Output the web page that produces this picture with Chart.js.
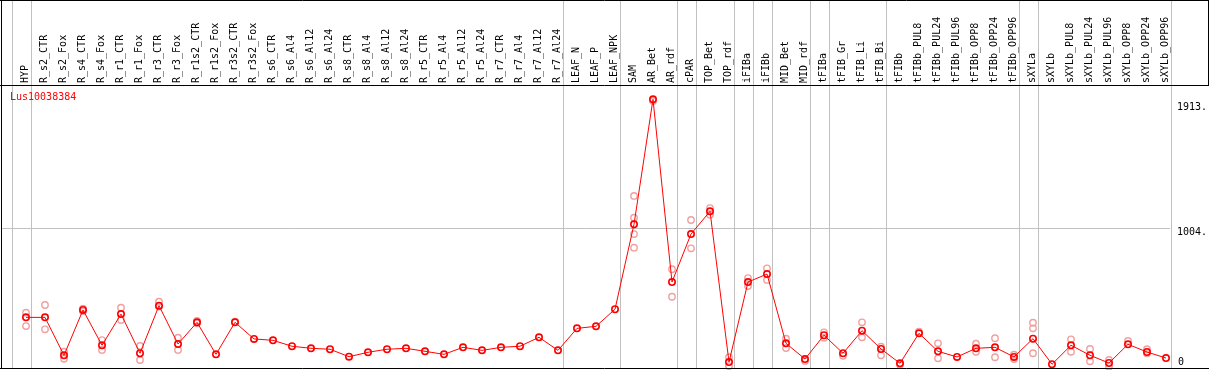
<!DOCTYPE html>
<html><head><meta charset="utf-8">
<script src="https://cdn.jsdelivr.net/npm/chart.js@4.4.0/dist/chart.umd.min.js"></script>
<style>html,body{margin:0;padding:0;background:#fff;overflow:hidden}#wrap{width:1209px;height:370px;position:relative;background:#fff}</style>
</head><body><div id="wrap"><canvas id="c" width="1209" height="370"></canvas></div>
<script>
const categories = ['HYP','R_s2_CTR','R_s2_Fox','R_s4_CTR','R_s4_Fox','R_r1_CTR','R_r1_Fox','R_r3_CTR','R_r3_Fox','R_r1s2_CTR','R_r1s2_Fox','R_r3s2_CTR','R_r3s2_Fox','R_s6_CTR','R_s6_Al4','R_s6_Al12','R_s6_Al24','R_s8_CTR','R_s8_Al4','R_s8_Al12','R_s8_Al24','R_r5_CTR','R_r5_Al4','R_r5_Al12','R_r5_Al24','R_r7_CTR','R_r7_Al4','R_r7_Al12','R_r7_Al24','LEAF_N','LEAF_P','LEAF_NPK','SAM','AR_Bet','AR_rdf','cPAR','TOP_Bet','TOP_rdf','iFIBa','iFIBb','MID_Bet','MID_rdf','tFIBa','tFIB_Gr','tFIB_Li','tFIB_Bi','tFIBb','tFIBb_PUL8','tFIBb_PUL24','tFIBb_PUL96','tFIBb_OPP8','tFIBb_OPP24','tFIBb_OPP96','sXYLa','sXYLb','sXYLb_PUL8','sXYLb_PUL24','sXYLb_PUL96','sXYLb_OPP8','sXYLb_OPP24','sXYLb_OPP96'];
const geneName = 'Lus10038384';
const meanValues = [361,361,85,415,158,385,100,446,167,325,92,325,204,194,151,136,129,75,107,129,136,114,92,143,121,143,151,216,121,281,296,420,1038,1947,618,967,1132,36,618,676,172,58,231,100,264,131,27,245,114,73,136,143,73,206,20,158,85,29,165,109,65];
const rep1 = [395,451,111,425,196,431,153,475,213,335,null,330,null,null,null,null,null,null,null,null,null,null,null,null,null,null,null,null,null,null,null,null,1244,1935,711,1069,1156,71,647,718,206,44,252,82,325,148,17,257,172,null,169,209,89,322,null,201,131,51,189,129,null];
const rep2 = [298,274,60,405,124,342,51,440,124,318,null,null,null,null,null,null,null,null,null,null,null,null,null,null,null,null,null,null,null,null,null,null,1086,null,511,863,1108,7,589,633,138,null,212,null,216,85,null,null,63,null,111,71,58,281,null,111,41,2,null,100,null];
const rep3 = [null,null,null,null,null,null,null,null,null,null,null,null,null,null,null,null,null,null,null,null,null,null,null,null,null,null,null,null,null,null,null,null,967,null,null,null,null,null,null,null,null,null,null,null,null,null,null,null,null,null,null,null,null,100,null,null,null,null,null,null,null];
const rep4 = [null,null,null,null,null,null,null,null,null,null,null,null,null,null,null,null,null,null,null,null,null,null,null,null,null,null,null,null,null,null,null,null,868,null,null,null,null,null,null,null,null,null,null,null,null,null,null,null,null,null,null,null,null,null,null,null,null,null,null,null,null];
const groupEnds = [-1,0,28,31,34,35,37,38,39,41,42,45,52,53,60];
const yTickValues = [0,1004,1913];
const yTickLabels = ['0','1004.','1913.'];

const MONO = "'DejaVu Sans Mono', monospace";
const toPts = arr => arr.map((v,i)=> v==null ? null : {x:i, y:v}).filter(Boolean);

const framePlugin = {
  id:'frame',
  beforeDatasetsDraw(chart){
    const {ctx, chartArea:a, scales:{x}} = chart;
    ctx.save();
    ctx.strokeStyle = '#c0c0c0'; ctx.lineWidth = 1;
    groupEnds.forEach(g=>{
      const px = Math.round(x.getPixelForValue(g+0.25)) + 0.5;
      ctx.beginPath(); ctx.moveTo(px,0); ctx.lineTo(px,a.bottom); ctx.stroke();
    });
    ctx.restore();
  },
  afterDraw(chart){
    const {ctx, chartArea:a, scales:{y}} = chart;
    const W = chart.width;
    ctx.save();
    ctx.strokeStyle = '#000'; ctx.lineWidth = 1;
    ctx.beginPath();
    ctx.moveTo(0,0.5); ctx.lineTo(W,0.5);
    ctx.moveTo(0,Math.round(a.top)+0.5); ctx.lineTo(W,Math.round(a.top)+0.5);
    ctx.moveTo(0,Math.round(a.bottom)+0.5); ctx.lineTo(W,Math.round(a.bottom)+0.5);
    ctx.moveTo(1.5,0); ctx.lineTo(1.5,a.bottom);
    ctx.moveTo(W-0.5,0); ctx.lineTo(W-0.5,a.top);
    ctx.stroke();
    ctx.font = '10px ' + MONO;
    ctx.fillStyle = '#000';
    ctx.textAlign = 'left';
    yTickValues.forEach((v,i)=>{
      const py = y.getPixelForValue(v);
      if (v === 0) { ctx.textBaseline = 'alphabetic'; ctx.fillText(yTickLabels[i], a.right+8, py-2); }
      else { ctx.textBaseline = 'top'; ctx.fillText(yTickLabels[i], a.right+7, py-2); }
    });
    ctx.fillStyle = '#ff0000';
    ctx.textBaseline = 'top';
    ctx.fillText(geneName, a.left+9, a.top+7);
    ctx.restore();
  }
};

const repStyle = {showLine:false, pointRadius:3.2, pointBorderWidth:1.4, pointBorderColor:'#f0a0a0', pointBackgroundColor:'rgba(0,0,0,0)', borderColor:'#f0a0a0'};

new Chart(document.getElementById('c'), {
  type:'line',
  data:{datasets:[
    {label:geneName, data:toPts(meanValues), borderColor:'#ff0000', borderWidth:1, pointRadius:3.2, pointBorderWidth:1.6, pointBorderColor:'#ff0000', pointBackgroundColor:'rgba(0,0,0,0)', fill:false, tension:0, clip:6},
    Object.assign({label:'r1', data:toPts(rep1), clip:6}, repStyle),
    Object.assign({label:'r2', data:toPts(rep2), clip:6}, repStyle),
    Object.assign({label:'r3', data:toPts(rep3), clip:6}, repStyle),
    Object.assign({label:'r4', data:toPts(rep4), clip:6}, repStyle)
  ]},
  options:{
    responsive:false, animation:false, devicePixelRatio:1,
    layout:{autoPadding:false, padding:{left:1,right:0,top:0,bottom:2}},
    plugins:{legend:{display:false}, tooltip:{enabled:false}},
    scales:{
      x:{type:'linear', position:'top', min:-1.3158, max:60.2105,
        afterBuildTicks:s=>{ s.ticks = categories.map((c,i)=>({value:i})); },
        afterFit:s=>{ s.height = 85; s.paddingLeft = 0; s.paddingRight = 0; },
        grid:{display:false, drawTicks:false},
        border:{display:false},
        ticks:{autoSkip:false, maxRotation:90, minRotation:90, padding:2, labelOffset:11, color:'#000', font:{family:MONO, size:10}, callback:v=>categories[v]}
      },
      y:{type:'linear', position:'right', min:-7.27, max:2051,
        afterBuildTicks:s=>{ s.ticks = yTickValues.map(v=>({value:v})); },
        afterFit:s=>{ s.width = 39; s.paddingTop = 0; s.paddingBottom = 0; },
        grid:{color:c=> (c.tick && c.tick.value===1004) ? '#c0c0c0' : 'rgba(0,0,0,0)', drawTicks:false},
        border:{display:false},
        ticks:{display:false}
      }
    }
  },
  plugins:[framePlugin]
});
</script></body></html>
